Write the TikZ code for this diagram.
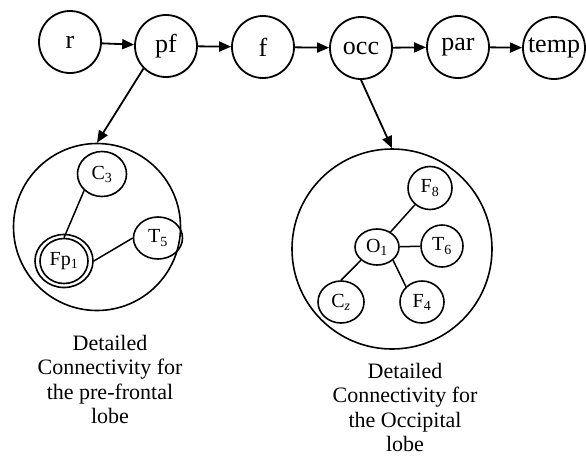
\documentclass[tikz,border=0pt]{standalone}
\usepackage{fontspec}
\setmainfont{Liberation Serif}
\usetikzlibrary{shapes.geometric,arrows.meta}
\begin{document}
\begin{tikzpicture}[x=1pt,y=-1pt,
  top/.style={circle,draw,line width=1.8pt,minimum size=62pt,inner sep=0pt,font=\fontsize{26}{30}\selectfont},
  big/.style={circle,draw,line width=1.6pt,inner sep=0pt},
  sub/.style={ellipse,draw,line width=1.6pt,inner sep=0pt,font=\fontsize{20}{24}\selectfont},
  arr/.style={line width=1.8pt,-{Triangle[length=12pt,width=10pt]}},
  lnk/.style={line width=1.5pt},
  captext/.style={align=center,inner sep=0pt,anchor=north,font=\fontsize{22}{24.5}\selectfont}]
\useasboundingbox (0,0) rectangle (586,456);
% top chain
\node[top] (r) at (70,42) {r};
\node[top] (pf) at (166,46) {pf};
\node[top] (f) at (263,47) {f};
\node[top] (occ) at (361,48) {occ};
\node[top] (par) at (458,47) {par};
\node[top] (temp) at (554,48) {temp};
\draw[arr] (r) -- (pf);
\draw[arr] (pf) -- (f);
\draw[arr] (f) -- (occ);
\draw[arr] (occ) -- (par);
\draw[arr] (par) -- (temp);
% big circles
\node[big,minimum size=167pt] (pfc) at (97,227) {};
\node[big,minimum size=200pt] (occc) at (392,249) {};
\draw[arr] (pf.south west) -- (pfc.north);
\draw[arr] (occ.south) -- (occc.north);
% pre-frontal detail
\node[sub,minimum width=49pt,minimum height=45pt] (C3) at (102,174) {C\textsubscript{3}};
\node[sub,minimum width=49pt,minimum height=42pt] (T5) at (158,238) {T\textsubscript{5}};
\node[sub,minimum width=58pt,minimum height=53pt] (Fp1o) at (64,261) {};
\node[sub,minimum width=48pt,minimum height=45pt] (Fp1) at (64,261) {Fp\textsubscript{1}};
\draw[lnk] (C3.south west) -- (Fp1.north);
\draw[lnk] (T5.west) -- (Fp1o.east);
% occipital detail
\node[sub,minimum width=44pt,minimum height=43pt] (F8) at (430,188) {F\textsubscript{8}};
\node[sub,minimum width=44pt,minimum height=36pt] (O1) at (377,247) {O\textsubscript{1}};
\node[sub,minimum width=42pt,minimum height=42pt] (T6) at (442,246) {T\textsubscript{6}};
\node[sub,minimum width=46pt,minimum height=42pt] (Cz) at (341,302) {C\textsubscript{\textit{z}}};
\node[sub,minimum width=44pt,minimum height=42pt] (F4) at (422,302) {F\textsubscript{4}};
\draw[lnk] (O1) -- (F8);
\draw[lnk] (O1) -- (T6);
\draw[lnk] (O1.south west) -- (Cz.north);
\draw[lnk] (O1.south east) -- (F4.north west);
% captions
\node[captext] (cap1) at (110,335) {Detailed\\Connectivity for\\the pre-frontal\\lobe};
\node[captext] (cap2) at (405,363) {Detailed\\Connectivity for\\the Occipital\\lobe};
\end{tikzpicture}
\end{document}
